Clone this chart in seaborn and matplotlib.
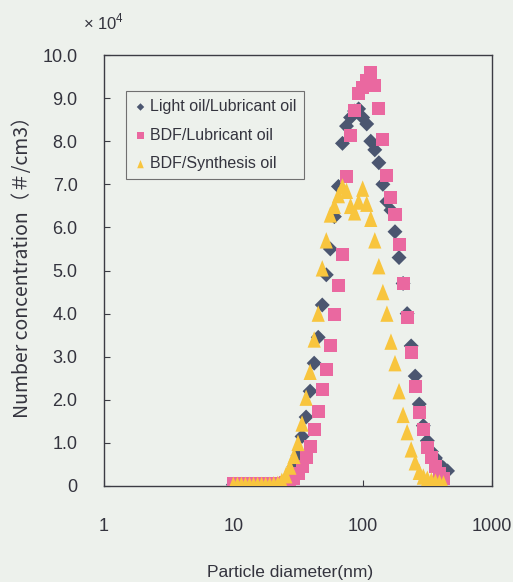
import numpy as np
import pandas as pd
import matplotlib
matplotlib.use("Agg")
import matplotlib.pyplot as plt
from matplotlib.ticker import NullLocator
import seaborn as sns

# Particle size channels (nm), 32 channels per decade
diameter_nm = [
    10.0, 10.75, 11.55, 12.41, 13.34, 14.33, 15.40, 16.55, 17.78, 19.11,
    20.54, 22.07, 23.71, 25.48, 27.38, 29.43, 31.62, 33.98, 36.52, 39.24,
    42.17, 45.32, 48.70, 52.33, 56.23, 60.43, 64.94, 69.78, 74.99, 80.58,
    86.60, 93.06, 100.0, 107.5, 115.5, 124.1, 133.4, 143.3, 154.0, 165.5,
    177.8, 191.1, 205.4, 220.7, 237.1, 254.8, 273.8, 294.3, 316.2, 339.8,
    365.2, 392.4, 421.7, 453.2,
]

# Number concentration (x 10^4 #/cm3)
light_oil_lubricant = [
    0.03, 0.03, 0.03, 0.03, 0.03, 0.03, 0.03, 0.03, 0.03, 0.03,
    0.04, 0.04, 0.05, 0.10, 0.25, 0.45, 0.70, 1.15, 1.60, 2.20,
    2.85, 3.45, 4.20, 4.90, 5.50, 6.25, 6.95, 7.95, 8.35, 8.55,
    8.70, 8.75, 8.55, 8.40, 8.00, 7.80, 7.50, 7.00, 6.60, 6.40,
    5.90, 5.30, 4.70, 4.00, 3.25, 2.55, 1.90, 1.40, 1.05, 0.80,
    0.65, 0.50, 0.42, 0.35,
]
bdf_lubricant = [
    0.06, 0.06, 0.06, 0.06, 0.06, 0.06, 0.06, 0.06, 0.06, 0.06,
    0.06, 0.06, 0.06, 0.07, 0.10, 0.18, 0.30, 0.45, 0.65, 0.91,
    1.30, 1.72, 2.23, 2.71, 3.27, 3.97, 4.66, 5.36, 7.17, 8.14,
    8.72, 9.10, 9.25, 9.40, 9.60, 9.30, 8.75, 8.05, 7.20, 6.70,
    6.30, 5.60, 4.70, 3.90, 3.10, 2.30, 1.70, 1.30, 0.90, 0.65,
    0.45, 0.30, 0.18,
]
bdf_synthesis = [
    0.03, 0.03, 0.03, 0.03, 0.03, 0.03, 0.03, 0.03, 0.03, 0.03,
    0.04, 0.05, 0.12, 0.25, 0.45, 0.70, 1.00, 1.45, 2.05, 2.65,
    3.40, 4.00, 5.05, 5.70, 6.30, 6.50, 6.75, 6.95, 6.85, 6.50,
    6.35, 6.60, 6.90, 6.55, 6.20, 5.70, 5.10, 4.50, 4.00, 3.35,
    2.85, 2.20, 1.65, 1.25, 0.85, 0.55, 0.33, 0.22, 0.17, 0.13,
    0.10, 0.08, 0.06,
]

series_labels = ["Light oil/Lubricant oil", "BDF/Lubricant oil", "BDF/Synthesis oil"]
series_colors = ["#4b5670", "#ea68a0", "#f8c53e"]

y_ticks = [0, 1, 2, 3, 4, 5, 6, 7, 8, 9, 10]
y_tick_labels = ["0", "1.0", "2.0", "3.0", "4.0", "5.0", "6.0", "7.0", "8.0", "9.0", "10.0"]
x_ticks = [1, 10, 100, 1000]
x_tick_labels = ["1", "10", "100", "1000"]

sns.set_style("ticks")
plt.rcParams["font.family"] = ["Liberation Sans", "DejaVu Sans"]
plt.rcParams["mathtext.fontset"] = "custom"
plt.rcParams["mathtext.rm"] = "Liberation Sans"

BG = "#edf1ec"
TEXT = "#34343e"
SPINE = "#3c3c44"

fig = plt.figure(figsize=(5.13, 5.82), dpi=100, facecolor=BG)
ax = fig.add_axes([104 / 513, 1 - 486 / 582, 388 / 513, 431 / 582])
ax.set_facecolor(BG)

tall_triangle = np.array([(0, 1.25), (-1, -1.25), (1, -1.25), (0, 1.25)])

frames = [
    (light_oil_lubricant, "D", 58),
    (bdf_lubricant, "s", 88),
    (bdf_synthesis, tall_triangle, 140),
]
for (values, marker, size), label, color in zip(frames, series_labels, series_colors):
    df = pd.DataFrame({"d": diameter_nm[:len(values)], "n": values})
    sns.scatterplot(data=df, x="d", y="n", ax=ax, marker=marker, s=size,
                    color=color, edgecolor="none", linewidth=0, label=label,
                    zorder=3)

ax.set_xscale("log")
ax.set_xlim(1, 1000)
ax.set_ylim(0, 10)
ax.set_xticks(x_ticks)
ax.set_xticklabels(x_tick_labels)
ax.xaxis.set_minor_locator(NullLocator())
ax.set_yticks(y_ticks)
ax.set_yticklabels(y_tick_labels)
ax.set_xlabel("")
ax.set_ylabel("")

ax.tick_params(axis="both", direction="in", length=4, width=0.8, color=SPINE,
               labelcolor=TEXT, labelsize=13)
ax.tick_params(axis="x", pad=23)
ax.tick_params(axis="y", pad=19)
for sp in ax.spines.values():
    sp.set_visible(True)
    sp.set_color(SPINE)
    sp.set_linewidth(1.0)

leg = ax.legend(loc="upper left", bbox_to_anchor=(0.057, 0.916), borderaxespad=0,
                fontsize=11.5, markerscale=0.5, frameon=True, fancybox=False,
                handletextpad=0.2, handlelength=0.8, borderpad=0.5,
                labelspacing=0.85, labelcolor=TEXT)
leg.get_frame().set_edgecolor("#707070")
leg.get_frame().set_linewidth(0.8)
leg.get_frame().set_facecolor(BG)
leg.get_frame().set_alpha(1)

fig.text(83 / 513, 1 - 22 / 582, "× 10$^{4}$", ha="left", va="center",
         fontsize=12, color=TEXT)
fig.text(23 / 513, 1 - 262 / 582, "Number concentration（＃/cm3）", rotation=90,
         ha="center", va="center", fontsize=14, color=TEXT,
         family=["Noto Sans CJK JP", "DejaVu Sans"])
fig.text(290 / 513, 1 - 572 / 582, "Particle diameter(nm)", ha="center",
         va="center", fontsize=12.5, color=TEXT)

fig.savefig("out.png", dpi=100, facecolor=BG)
